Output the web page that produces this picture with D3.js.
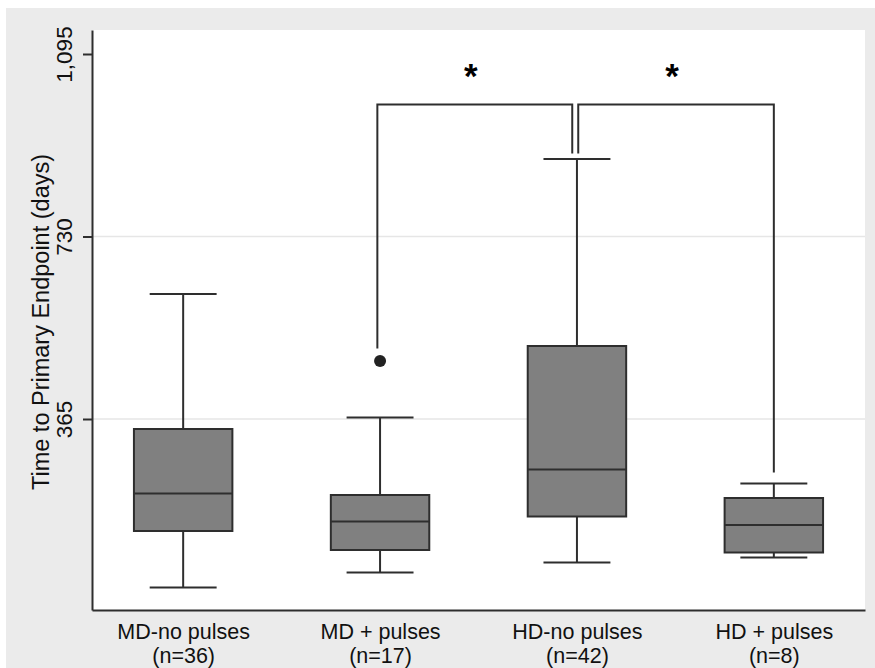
<!DOCTYPE html>
<html>
<head>
<meta charset="utf-8">
<script src="https://cdn.jsdelivr.net/npm/d3@7"></script>
<style>
  body { margin: 0; background: #fff; }
  text { font-family: "Liberation Sans", Arial, sans-serif; fill: #111; }
</style>
</head>
<body>
<div id="chart"></div>
<script>
// data (days)
const groups = ["MD-no pulses", "MD + pulses", "HD-no pulses", "HD + pulses"];
const counts = ["(n=36)", "(n=17)", "(n=42)", "(n=8)"];
const whiskerLow = [28, 58, 78, 88];
const q1 = [141, 103, 170, 98];
const median = [216, 160, 264, 153];
const q3 = [345, 213, 511, 207];
const whiskerHigh = [615, 368, 885, 236];
const outliers = [{group: "MD + pulses", value: 481}];
const yTicks = [365, 730, 1095];
const gridTicks = [365, 730];
// significance brackets: from group, to group, leg ends, bar height
const brackets = [
  {from: "MD + pulses", to: "HD-no pulses", fromEnd: 506, toEnd: 896, top: 994, dxFrom: -2.7, dxTo: -4.7},
  {from: "HD-no pulses", to: "HD + pulses", fromEnd: 896, toEnd: 258, top: 994, dxFrom: 1.3, dxTo: 0}
];
const starLevel = 1061;

const W = 875, H = 668;
const plot = {left: 92, right: 865, top: 30, bottom: 610};

const svg = d3.select("#chart")
    .append("svg")
    .attr("width", W)
    .attr("height", H);

// outer grey panel and white plot region
svg.append("rect")
    .attr("x", 6).attr("y", 8)
    .attr("width", W - 6).attr("height", H - 8)
    .attr("fill", "#ebebeb");
svg.append("rect")
    .attr("x", plot.left).attr("y", plot.top)
    .attr("width", plot.right - plot.left).attr("height", plot.bottom - plot.top)
    .attr("fill", "#fff");

const x = d3.scalePoint()
    .domain(groups)
    .range([plot.left, plot.right])
    .padding(0.463);

const y = d3.scaleLinear()
    .domain([-17, 1143])
    .range([plot.bottom, plot.top]);

const step = x.step();
const boxW = step * 0.5;
const capW = step * 0.34;

// gridlines
svg.append("g")
    .selectAll("line")
    .data(gridTicks)
    .join("line")
    .attr("x1", plot.left).attr("x2", plot.right)
    .attr("y1", d => y(d)).attr("y2", d => y(d))
    .attr("stroke", "#e6e6e6")
    .attr("stroke-width", 1.5);

const stats = groups.map((g, i) => ({
  g, lo: whiskerLow[i], q1: q1[i], med: median[i], q3: q3[i], hi: whiskerHigh[i]
}));

const box = svg.append("g")
    .selectAll("g")
    .data(stats)
    .join("g")
    .attr("stroke", "#2e2e2e")
    .attr("stroke-width", 2);

// whiskers
box.append("line")
    .attr("x1", d => x(d.g)).attr("x2", d => x(d.g))
    .attr("y1", d => y(d.hi)).attr("y2", d => y(d.q3));
box.append("line")
    .attr("x1", d => x(d.g)).attr("x2", d => x(d.g))
    .attr("y1", d => y(d.q1)).attr("y2", d => y(d.lo));
box.append("line")
    .attr("x1", d => x(d.g) - capW / 2).attr("x2", d => x(d.g) + capW / 2)
    .attr("y1", d => y(d.hi)).attr("y2", d => y(d.hi));
box.append("line")
    .attr("x1", d => x(d.g) - capW / 2).attr("x2", d => x(d.g) + capW / 2)
    .attr("y1", d => y(d.lo)).attr("y2", d => y(d.lo));

box.append("rect")
    .attr("x", d => x(d.g) - boxW / 2)
    .attr("width", boxW)
    .attr("y", d => y(d.q3))
    .attr("height", d => y(d.q1) - y(d.q3))
    .attr("fill", "#808080");

box.append("line")
    .attr("x1", d => x(d.g) - boxW / 2).attr("x2", d => x(d.g) + boxW / 2)
    .attr("y1", d => y(d.med)).attr("y2", d => y(d.med));

// outliers
svg.append("g")
    .selectAll("circle")
    .data(outliers)
    .join("circle")
    .attr("cx", d => x(d.group))
    .attr("cy", d => y(d.value))
    .attr("r", 6)
    .attr("fill", "#222");

// brackets
svg.append("g")
    .selectAll("path")
    .data(brackets)
    .join("path")
    .attr("fill", "none")
    .attr("stroke", "#2e2e2e")
    .attr("stroke-width", 2)
    .attr("d", d => {
      const x0 = x(d.from) + d.dxFrom, x1 = x(d.to) + d.dxTo;
      return `M${x0},${y(d.fromEnd)}V${y(d.top)}H${x1}V${y(d.toEnd)}`;
    });

svg.append("g")
    .selectAll("text")
    .data(brackets)
    .join("text")
    .attr("x", d => (x(d.from) + d.dxFrom + x(d.to) + d.dxTo) / 2 - 4)
    .attr("y", y(starLevel) + 17)
    .attr("text-anchor", "middle")
    .style("font-size", "35px")
    .style("font-weight", "bold")
    .style("fill", "#000")
    .text("*");

// y axis
const yAxis = svg.append("g")
    .attr("transform", `translate(${plot.left},0)`)
    .call(d3.axisLeft(y).tickValues(yTicks).tickFormat(d3.format(",")).tickSize(9).tickSizeOuter(0));
yAxis.select(".domain").attr("stroke", "#2e2e2e").attr("stroke-width", 2);
yAxis.selectAll(".tick line").attr("stroke", "#2e2e2e").attr("stroke-width", 2);
yAxis.selectAll(".tick text")
    .attr("transform", "rotate(-90)")
    .attr("x", 0)
    .attr("y", -20)
    .attr("dy", null)
    .attr("text-anchor", "middle")
    .style("font-size", "22.5px")
    .style("font-family", "'Liberation Sans', Arial, sans-serif")
    .style("fill", "#111");

svg.append("text")
    .attr("transform", `translate(49,${(plot.top + plot.bottom) / 2 + 2}) rotate(-90)`)
    .attr("text-anchor", "middle")
    .style("font-size", "23.5px")
    .text("Time to Primary Endpoint (days)");

// x axis
const xAxis = svg.append("g")
    .attr("transform", `translate(0,${plot.bottom})`)
    .call(d3.axisBottom(x).tickSize(0).tickSizeOuter(0));
xAxis.select(".domain").attr("stroke", "#2e2e2e").attr("stroke-width", 2);
xAxis.selectAll(".tick text").remove();
xAxis.selectAll(".tick")
    .append("text")
    .attr("text-anchor", "middle")
    .style("font-size", "21.5px")
    .style("font-family", "'Liberation Sans', Arial, sans-serif")
    .style("fill", "#111")
    .each(function(d, i) {
      const t = d3.select(this);
      t.append("tspan").attr("x", 0).attr("y", 29).text(d);
      t.append("tspan").attr("x", 0).attr("y", 53.3).text(counts[i]);
    });
</script>
</body>
</html>
